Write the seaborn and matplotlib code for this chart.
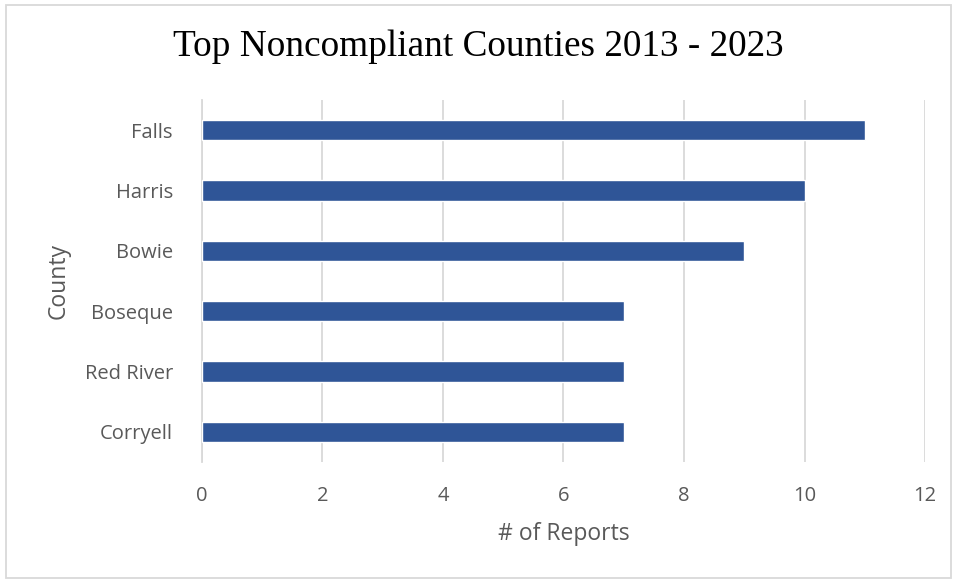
import matplotlib
matplotlib.use("Agg")
import matplotlib.pyplot as plt
import seaborn as sns
import pandas as pd
from matplotlib.patches import Rectangle

# -------------------------
# Data
# -------------------------
counties = ["Falls", "Harris", "Bowie", "Boseque", "Red River", "Corryell"]
reports = [11, 10, 9, 7, 7, 7]
x_ticks = [0, 2, 4, 6, 8, 10, 12]

df = pd.DataFrame({"County": counties, "Reports": reports})

sns.set_style("white")
plt.rcParams["font.family"] = ["Open Sans", "DejaVu Sans"]

fig = plt.figure(figsize=(9.57, 5.8), dpi=100)
ax = fig.add_axes([0.211, 0.2034, 0.7556, 0.6242])

sns.barplot(data=df, x="Reports", y="County", color="#2F5597",
            width=0.34, saturation=1, ax=ax, zorder=3)

ax.set_xlim(0, 12)
ax.set_ylim(5.5, -0.5)
ax.set_xticks(x_ticks)
ax.grid(axis="x", color="#D9D9D9", linewidth=1.3, zorder=0)
for s in ["top", "right", "bottom"]:
    ax.spines[s].set_visible(False)
ax.spines["left"].set_color("#D9D9D9")
ax.spines["left"].set_linewidth(1.3)
ax.tick_params(axis="both", length=0, labelsize=14.5, labelcolor="#595959")
ax.tick_params(axis="y", pad=21)
ax.tick_params(axis="x", pad=17)

ax.set_xlabel("# of Reports", fontsize=16.5, color="#595959", labelpad=12)
ax.set_ylabel("County", fontsize=16.5, color="#595959", labelpad=10)

fig.text(0.5, 0.919, "Top Noncompliant Counties 2013 - 2023",
         ha="center", va="center", fontsize=26.8, family="Liberation Serif", color="black")

# light border around the chart area
fig.patches.append(Rectangle((0.006, 0.003), 0.988, 0.988, transform=fig.transFigure,
                             fill=False, edgecolor="#D9D9D9", linewidth=1.3))

fig.savefig("out.png", dpi=100)
